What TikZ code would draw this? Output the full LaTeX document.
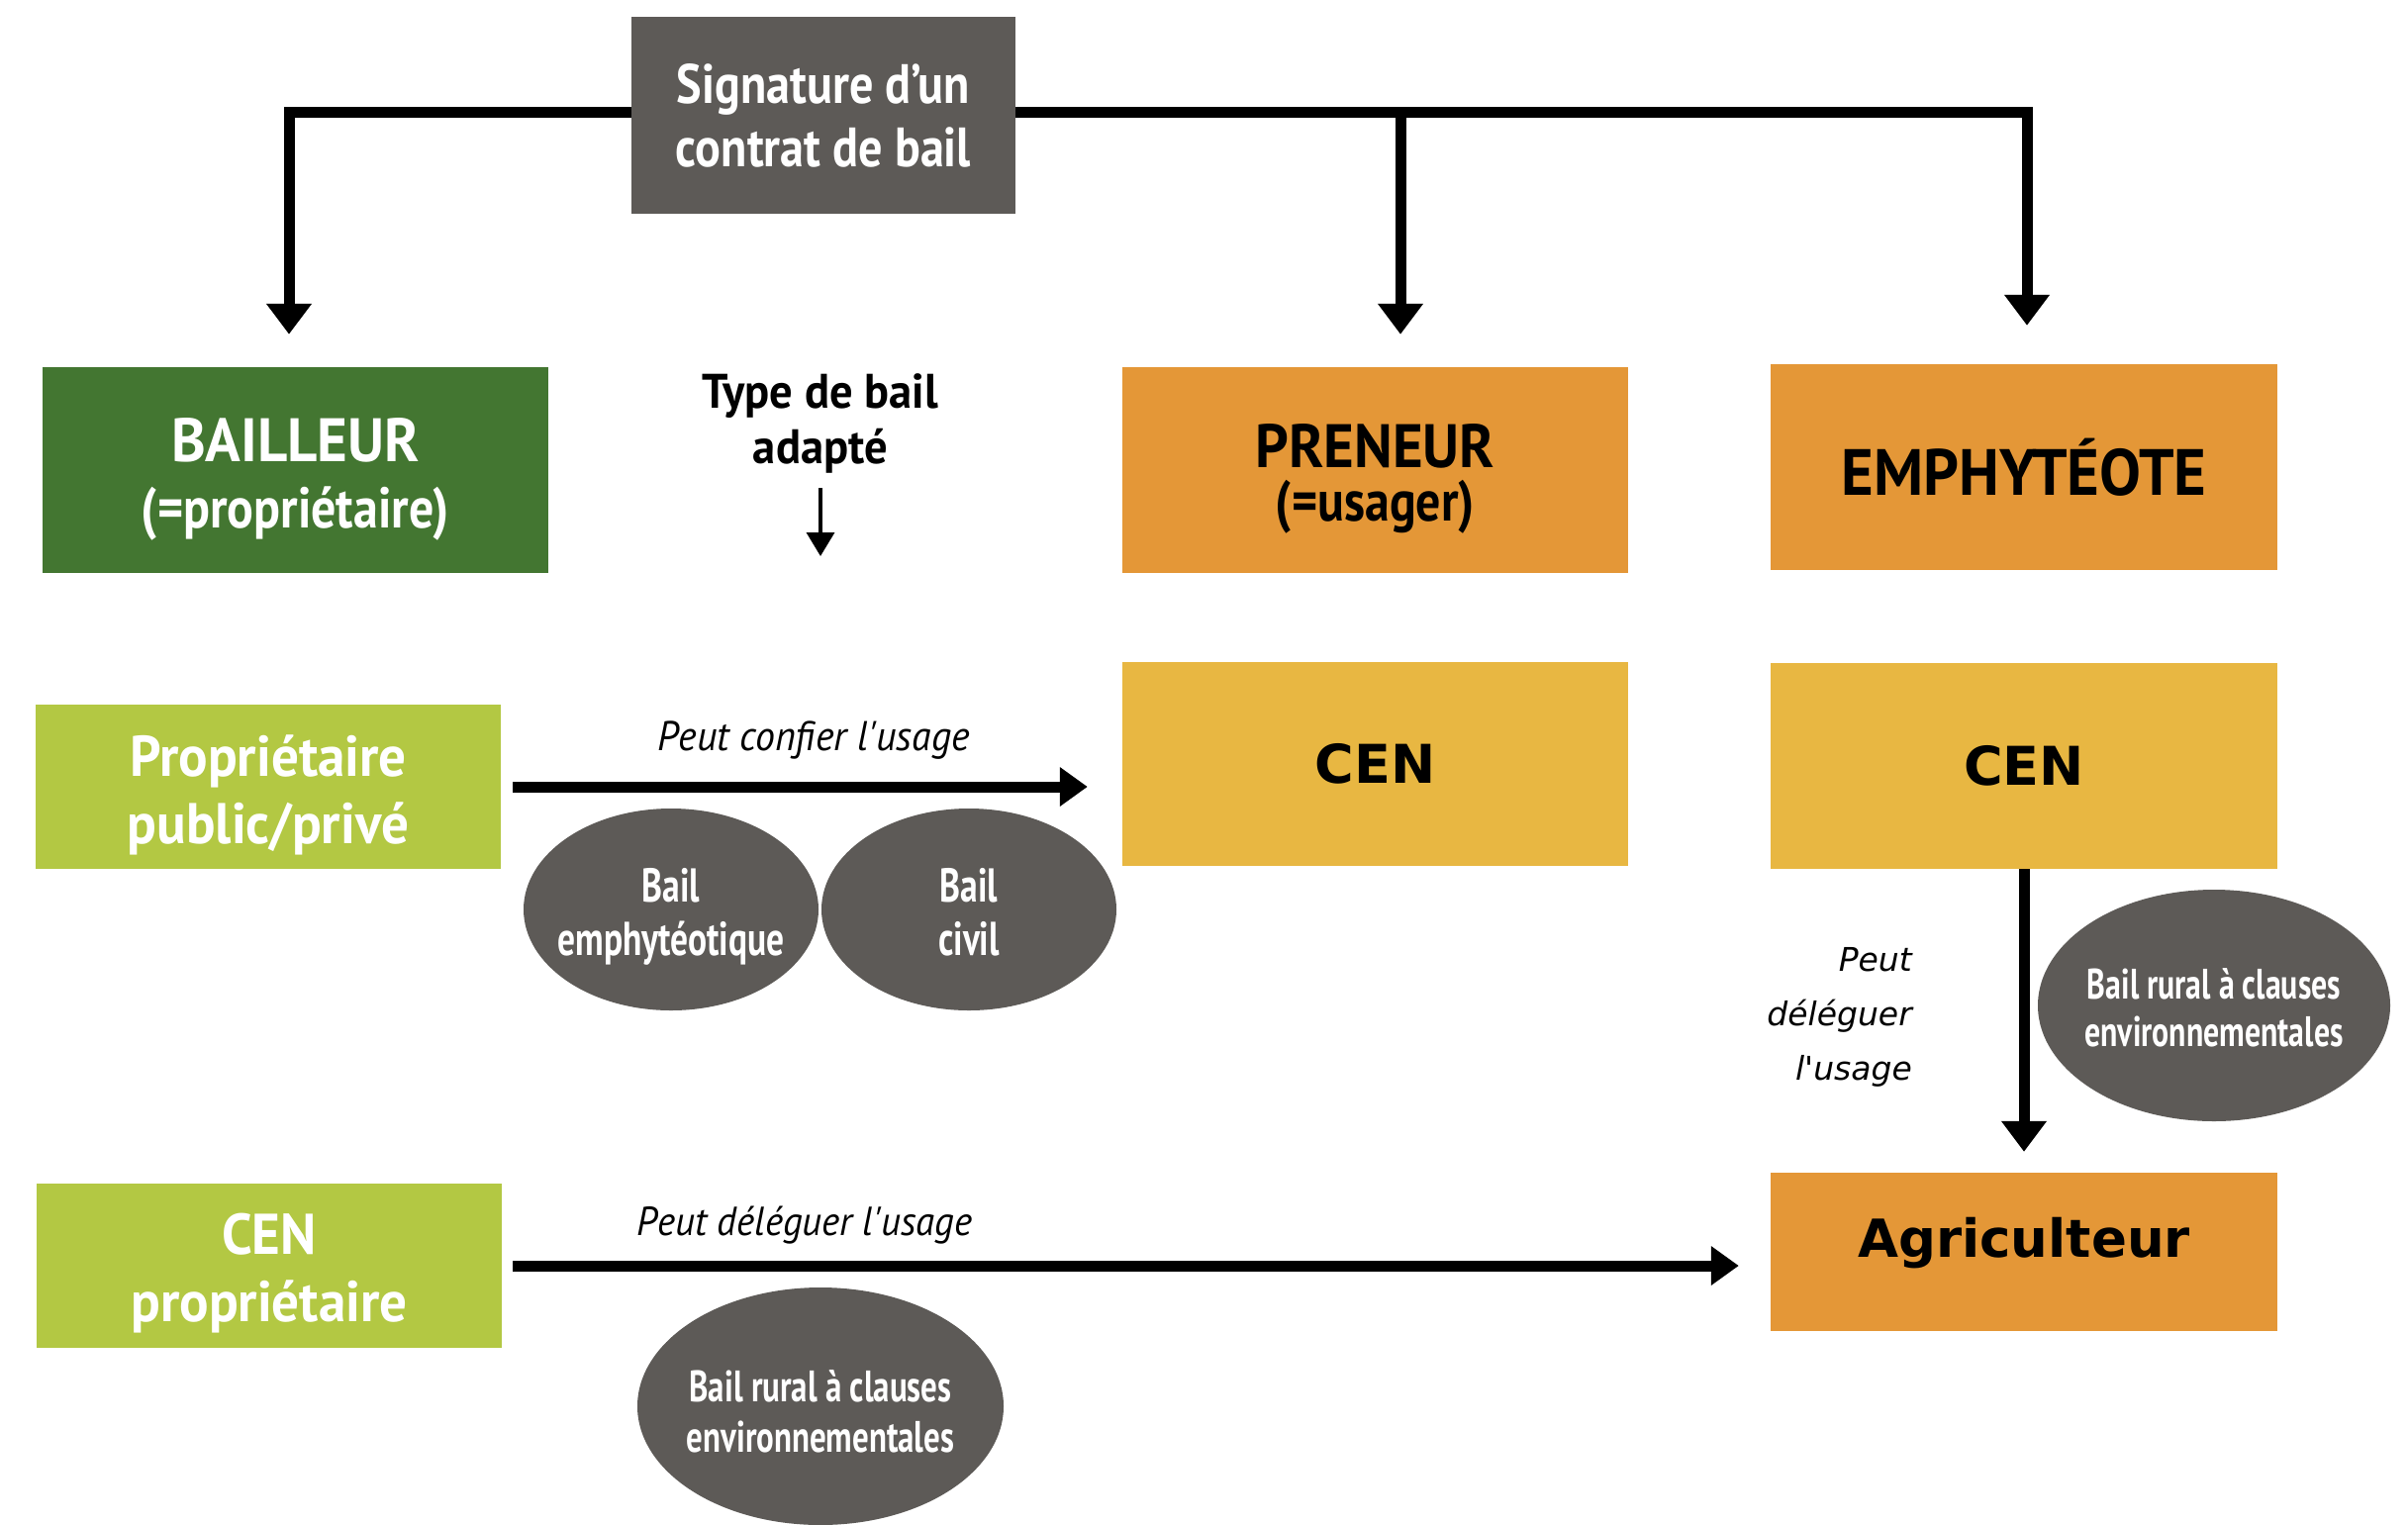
\documentclass[tikz,border=0pt]{standalone}
\usepackage{fontspec}
\setmainfont{PT Sans}
\newfontfamily\myr{PT Sans}[FakeStretch=0.86]
\newfontfamily\myrw{PT Sans}[FakeStretch=0.95]
\newfontfamily\myrc{PT Sans}[FakeStretch=0.74]
\newfontfamily\verd{DejaVu Sans}
\usetikzlibrary{arrows.meta,shapes.geometric}
\definecolor{dgrey}{HTML}{5D5A57}
\definecolor{dgreen}{HTML}{437631}
\definecolor{orng}{HTML}{E49737}
\definecolor{ochre}{HTML}{E8B742}
\definecolor{lgreen}{HTML}{B3C843}
\newcommand\tlines[1]{\begin{tabular}{@{}c@{}}#1\end{tabular}}
\tikzset{
  box/.style={rectangle, inner sep=0pt},
  oval/.style={ellipse, fill=dgrey, draw=none, inner sep=0pt},
  tx/.style={inner sep=0pt, align=center},
  bar/.style={line width=11pt},
  conn/.style={line width=11pt, -{Triangle[length=31pt,width=44pt]}},
  harrow/.style={line width=11pt, -{Triangle[length=28pt,width=38pt]}},
  lbl/.style={inner sep=0pt, align=center}
}
\begin{document}
\begin{tikzpicture}[x=1pt,y=-1pt]
\fill[white] (0,0) rectangle (2433,1540);
\useasboundingbox (0,0) rectangle (2433,1540);
\clip (0,0) rectangle (2433,1540);

% top box
\node[box, fill=dgrey, minimum width=388pt, minimum height=199pt, text=white, align=center,
  font={\myr\bfseries\fontsize{56}{64}\selectfont}] (sig) at (832,116.5) {Signature d’un\\contrat de bail};

% row 1
\node[box, fill=dgreen, minimum width=511pt, minimum height=208pt] (bail) at (298.5,475) {};
\node[tx, text=white, font={\myr\bfseries\fontsize{58}{67}\selectfont}] (bailt) at ([yshift=-12pt]bail.center)
  {\tlines{{\myrw\fontsize{62}{67}\selectfont BAILLEUR}\\(=propriétaire)}};
\node[box, fill=orng, minimum width=511pt, minimum height=208pt] (pre) at (1389.5,475) {};
\node[tx, text=black, font={\myr\bfseries\fontsize{58}{54}\selectfont}] (pret) at ([yshift=-9pt]pre.center)
  {{\myrw\fontsize{62}{54}\selectfont PRENEUR}\\(=usager)};
\node[box, fill=orng, minimum width=512pt, minimum height=208pt, text=black,
  font={\myrw\bfseries\fontsize{66}{67}\selectfont}] (emph) at (2045,472) {EMPHYTÉOTE};

\node[lbl, font={\myrw\bfseries\fontsize{49}{56}\selectfont}] (type) at (829,428) {Type de bail\\adapté};
\coordinate (t1) at (829,493);
\coordinate (t2) at (829,562);
\draw[line width=3.5pt, -{Triangle[length=24pt,width=28pt]}] (t1) -- (t2);

% row 2
\node[box, fill=lgreen, minimum width=470pt, minimum height=166pt] (prop) at (271,795) {};
\node[tx, text=white, font={\myrw\bfseries\fontsize{58}{68}\selectfont}] (propt) at ([yshift=-10pt]prop.center)
  {\tlines{Propriétaire\\public/privé}};
\node[box, fill=ochre, minimum width=511pt, minimum height=206pt, text=black,
  font={\verd\bfseries\fontsize{54}{60}\selectfont}] (cen1) at (1389.5,772) {CEN};
\node[box, fill=ochre, minimum width=512pt, minimum height=208pt, text=black,
  font={\verd\bfseries\fontsize{54}{60}\selectfont}] (cen2) at (2045,774) {CEN};

\node[oval, minimum width=298pt, minimum height=204pt] (e1) at (678,919) {};
\node[tx, text=white, font={\myrc\bfseries\fontsize{48}{54}\selectfont}] (e1t) at ([yshift=-8.5pt]e1.center)
  {\tlines{Bail\\emphytéotique}};
\node[oval, minimum width=298pt, minimum height=204pt] (e2) at (979,919) {};
\node[tx, text=white, font={\myrc\bfseries\fontsize{48}{54}\selectfont}] (e2t) at ([yshift=-8.5pt]e2.center)
  {\tlines{Bail\\civil}};

\node[lbl, font={\myrw\itshape\fontsize{42}{50}\selectfont}] (l1) at (822,748) {Peut confier l'usage};
\draw[harrow, shorten <=12pt, shorten >=35pt] (prop.east) -- (prop.east -| cen1.west);

% right column
\node[oval, minimum width=356pt, minimum height=234pt] (e3) at (2237,1016) {};
\node[tx, text=white, font={\myrc\bfseries\fontsize{43}{48}\selectfont}] (e3t) at ([yshift=-8pt]e3.center)
  {\tlines{Bail rural à clauses\\environnementales}};
\node[box, fill=orng, minimum width=512pt, minimum height=160pt] (agri) at (2045,1265) {};
\node[tx, text=black, font={\verd\bfseries\fontsize{53}{60}\selectfont}] (agrit) at ([yshift=9pt]agri.center) {Agriculteur};
\draw[conn, shorten >=21pt] (cen2.south) -- (agri.north);
\node[lbl, anchor=east, align=right, font={\verd\itshape\fontsize{33}{55}\selectfont}] (l3) at (1932,1028) {Peut\\déléguer\\l'usage};

% row 3
\node[box, fill=lgreen, minimum width=470pt, minimum height=166pt] (cenp) at (272,1279) {};
\node[tx, text=white, font={\myrw\bfseries\fontsize{58}{68}\selectfont}] (cenpt) at ([yshift=-9pt]cenp.center)
  {\tlines{CEN\\propriétaire}};
\node[lbl, font={\myrw\itshape\fontsize{41}{50}\selectfont}] (l2) at (813,1238) {Peut déléguer l'usage};
\draw[harrow, shorten <=11pt, shorten >=32pt] (cenp.east) -- (cenp.east -| agri.west);
\node[oval, minimum width=370pt, minimum height=240pt] (e4) at (829,1421) {};
\node[tx, text=white, font={\myrc\bfseries\fontsize{44.5}{51}\selectfont}] (e4t) at ([yshift=-11pt]e4.center)
  {\tlines{Bail rural à clauses\\environnementales}};

% top connectors
\coordinate (jl) at (292,113);
\coordinate (jm) at (1415,113);
\coordinate (jr) at (2048,113);
\draw[bar] (sig.west |- jl) -- ([xshift=-4pt]jl);
\draw[bar] (sig.east |- jr) -- ([xshift=4pt]jr);
\draw[conn, shorten >=33pt] ([yshift=5pt]jl) -- (jl |- bail.north);
\draw[conn, shorten >=33pt] (jm) -- (jm |- pre.north);
\draw[conn, shorten >=39pt] ([yshift=5pt]jr) -- (jr |- emph.north);
\end{tikzpicture}
\end{document}
